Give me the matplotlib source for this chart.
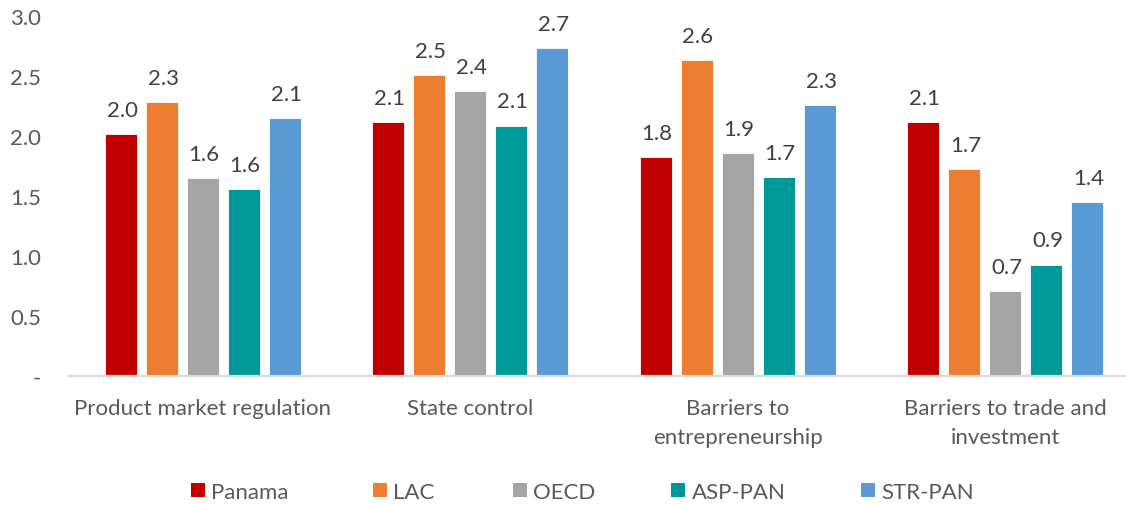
import matplotlib
matplotlib.use("Agg")
import matplotlib.pyplot as plt
import numpy as np
from matplotlib.patches import Patch

plt.rcParams['font.family'] = ['Lato', 'DejaVu Sans']

categories = ["Product market regulation", "State control",
              "Barriers to\nentrepreneurship", "Barriers to trade and\ninvestment"]
series_names = ["Panama", "LAC", "OECD", "ASP-PAN", "STR-PAN"]
panama = [2.02, 2.12, 1.83, 2.12]
lac = [2.29, 2.51, 2.64, 1.73]
oecd = [1.65, 2.38, 1.86, 0.71]
asp_pan = [1.56, 2.09, 1.66, 0.93]
str_pan = [2.15, 2.74, 2.26, 1.45]
yticks = [0.0, 0.5, 1.0, 1.5, 2.0, 2.5, 3.0]
ytick_labels = ["-", "0.5", "1.0", "1.5", "2.0", "2.5", "3.0"]

colors = ["#C00000", "#ED7D31", "#A5A5A5", "#009999", "#5B9BD5"]
values = [panama, lac, oecd, asp_pan, str_pan]

W, H = 1126, 506
fig = plt.figure(figsize=(W / 100, H / 100), dpi=100)
ax = fig.add_axes([69 / W, 129 / H, 1 - 69 / W, (377 - 17.5) / H])

x = np.arange(len(categories))
pitch = 0.1533
width = 0.12
text_dark = "#404040"
text_mid = "#595959"
fs = 16

for i, (vals, col) in enumerate(zip(values, colors)):
    pos = x + (i - 2) * pitch
    bars = ax.bar(pos, vals, width=width, color=col, edgecolor="white",
                  linewidth=0.6, zorder=2)
    for b, v in zip(bars, vals):
        ax.annotate(f"{v:.1f}", (b.get_x() + b.get_width() / 2, v),
                    xytext=(1, 13), textcoords="offset points",
                    ha="center", va="baseline", fontsize=fs, color=text_dark)

ax.set_xlim(-0.5, 3.452)
ax.set_ylim(0, 3.0)
ax.set_yticks(yticks)
ax.set_yticklabels(ytick_labels)
ax.set_xticks(x)
ax.set_xticklabels(categories, linespacing=1.55)
ax.tick_params(axis="y", length=0, pad=20, labelsize=fs, labelcolor=text_mid)
ax.tick_params(axis="x", length=0, pad=16, labelsize=fs, labelcolor=text_mid)

for side in ["top", "right", "left"]:
    ax.spines[side].set_visible(False)
ax.spines["bottom"].set_color("#D9D9D9")
ax.spines["bottom"].set_linewidth(1.6)
ax.spines["bottom"].set_zorder(3)

# Legend entries placed individually along the bottom
legend_x = [191, 373, 513, 671, 861]
for name, col, lx in zip(series_names, colors, legend_x):
    fig.legend(handles=[Patch(facecolor=col, edgecolor="none")], labels=[name],
               loc="center left", bbox_to_anchor=(lx / W, 1 - 493 / H),
               frameon=False, fontsize=fs, labelcolor=text_mid,
               handlelength=0.62, handleheight=0.62, handletextpad=0.3,
               borderpad=0, borderaxespad=0)

fig.savefig("out.png", dpi=100)
